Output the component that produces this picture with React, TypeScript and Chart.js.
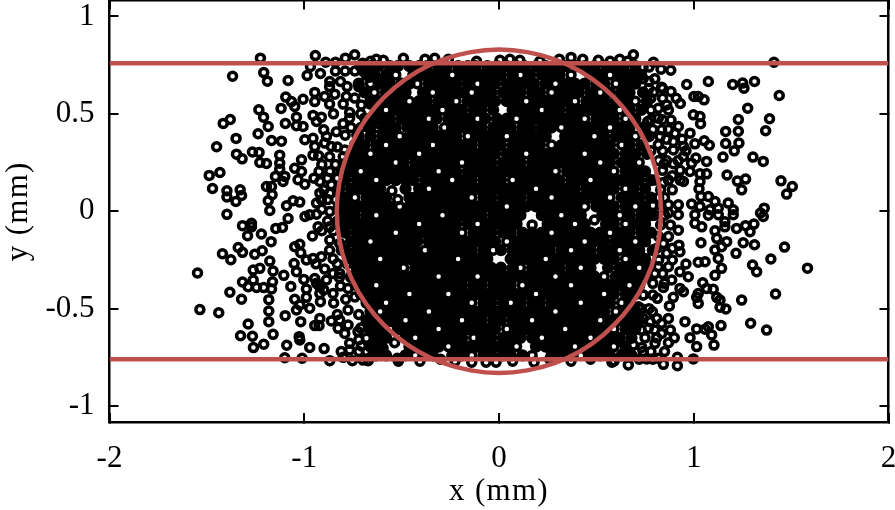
import React, { useEffect, useRef } from "react";
import { Chart, registerables } from "chart.js";

Chart.register(...registerables);

const SERIF = "'Liberation Serif', serif";
const RED = "#c0504d";

const xTicks = ["-2", "-1", "0", "1", "2"];
const yTicks = ["-1", "-0.5", "0", "0.5", "1"];

const beamY = [0.76, -0.76];
const beamX = [-2, 2];

const circleX = [0.833,0.82,0.783,0.721,0.638,0.535,0.417,0.285,0.145,0,-0.145,-0.285,-0.417,-0.535,-0.638,-0.721,-0.783,-0.82,-0.833,-0.82,-0.783,-0.721,-0.638,-0.535,-0.417,-0.285,-0.145,0,0.145,0.285,0.417,0.535,0.638,0.721,0.783,0.82,0.833];
const circleY = [0,0.144,0.284,0.415,0.533,0.635,0.719,0.78,0.817,0.83,0.817,0.78,0.719,0.635,0.533,0.415,0.284,0.144,0,-0.144,-0.284,-0.415,-0.533,-0.635,-0.719,-0.78,-0.817,-0.83,-0.817,-0.78,-0.719,-0.635,-0.533,-0.415,-0.284,-0.144,0];

// Points that can be told apart in the picture, read one by one.
const leftUpper = [[-1.225,.786],[-.943,.799],[-.789,.786],[-.741,.803],[-.968,.743],[-1.208,.712],[-1.189,.668],[-1.368,.693],[-1.083,.671],[-.985,.697],[-.917,.707],[-.869,.666],[-.814,.666],[-.664,.688],[-.621,.678],[-1.095,.586],[-1.066,.563],[-1.049,.538],[-1.006,.575],[-.946,.61],[-.946,.563],[-.895,.589],[-.843,.601],[-.784,.589],[-.741,.581],[-.707,.546],[-.767,.507],[-.767,.478],[-.801,.449],[-.835,.408],[-.69,.478],[-.616,.449],[-1.119,.528],[-1.233,.521],[-1.209,.483],[-1.38,.471],[-1.416,.451],[-1.185,.435],[-1.097,.451],[-1.04,.483],[-1.04,.439],[-1.006,.435],[-.955,.492],[-.912,.483],[-.937,.461],[-.9,.418],[-.886,.384],[-1.237,.398],[-1.35,.374],[-1.45,.331],[-1.168,.363],[-1.117,.36],[-.997,.367],[-.955,.375],[-.946,.333],[-.895,.35],[-.861,.333],[-.792,.315],[-1.348,.293],[-1.319,.269],[-1.266,.304],[-1.232,.302],[-1.126,.288],[-.955,.288],[-.926,.285],[-1.228,.25],[-1.194,.245],[-1.126,.247],[-1.126,.216],[-1.014,.264],[-1.049,.221],[-1.014,.204],[-.924,.204],[-.869,.204],[-1.433,.199],[-1.488,.184],[-1.148,.179],[-1.1,.179],[-1.109,.153],[-1.032,.162],[-.997,.139],[-.92,.153],[-.861,.136],[-1.471,.117],[-1.397,.105],[-1.329,.11],[-1.397,.073],[-1.322,.081],[-1.351,.05],[-1.194,.127],[-1.168,.127],[-1.165,.085],[-1.185,.054],[-1.177,.004],[-1.091,.028],[-1.057,.054],[-1.023,.047],[-.92,.093],[-.912,.059],[-.937,.042],[-.869,.093],[-1.397,-.016],[-.996,-.027],[-.972,-.018],[-.937,-.015],[-.869,-.001]];
const leftLower = [[-1.317,-.074],[-1.271,-.062],[-1.271,-.08],[-1.291,-.126],[-1.22,-.117],[-1.146,-.088],[-1.112,-.083],[-1.083,-.037],[-1.17,-.156],[-.958,-.127],[-.929,-.08],[-.869,-.08],[-.869,-.148],[-.818,-.165],[-1.339,-.186],[-1.317,-.211],[-1.42,-.218],[-1.377,-.249],[-1.254,-.221],[-1.216,-.203],[-1.177,-.256],[-1.049,-.182],[-1.023,-.17],[-1.018,-.213],[-1.052,-.268],[-.989,-.25],[-.955,-.242],[-.912,-.233],[-.852,-.244],[-1.228,-.293],[-1.262,-.302],[-1.16,-.307],[-1.548,-.317],[-1.105,-.329],[-1.04,-.31],[-.895,-.297],[-.852,-.319],[-.818,-.319],[-1.317,-.363],[-1.262,-.353],[-1.288,-.387],[-1.245,-.391],[-1.208,-.392],[-1.163,-.362],[-1.168,-.399],[-1.069,-.386],[-1.002,-.35],[-.946,-.345],[-.937,-.37],[-.886,-.353],[-.989,-.399],[-.92,-.387],[-.9,-.404],[-.814,-.384],[-.775,-.396],[-1.382,-.416],[-1.322,-.452],[-1.182,-.454],[-.92,-.422],[-.852,-.422],[-.989,-.442],[-1.049,-.452],[-.917,-.464],[-.849,-.471],[-.787,-.452],[-1.023,-.481],[-.972,-.498],[-1.04,-.507],[-.775,-.507],[-1.182,-.512],[-1.536,-.505],[-1.439,-.521],[-1.098,-.536],[-1.182,-.567],[-1.288,-.579],[-1.018,-.567],[-.92,-.55],[-.861,-.563],[-.818,-.558],[-.946,-.587],[-.924,-.587],[-.826,-.601],[-.775,-.584],[-.724,-.618],[-.792,-.627],[-1.16,-.632],[-1.327,-.639],[-1.266,-.642],[-1.026,-.644],[-1.023,-.661],[-.681,-.652],[-.595,-.644],[-1.208,-.683],[-1.261,-.7],[-1.09,-.688],[-.972,-.699],[-.898,-.705],[-.767,-.678],[-.707,-.692],[-.767,-.712],[-.638,-.729],[-.595,-.704],[-.536,-.675],[-1.1,-.752],[-1.011,-.755],[-.869,-.767],[-.753,-.767],[-.698,-.764],[-.672,-.767],[-.522,-.755]];
const rightUpper = [[.69,.803],[.793,.765],[.832,.729],[.882,.724],[1.412,.765],[.724,.7],[.69,.695],[.77,.666],[.964,.651],[1.075,.666],[1.2,.651],[1.251,.658],[1.258,.632],[1.312,.666],[.835,.637],[.883,.615],[.793,.611],[1.001,.589],[1.023,.589],[1.053,.572],[.931,.553],[1.439,.594],[.861,.546],[.818,.529],[1.277,.529],[.998,.495],[1.032,.486],[1.035,.449],[.883,.468],[.818,.478],[.764,.461],[1.229,.471],[1.389,.475],[.921,.435],[.835,.418],[1.164,.41],[1.229,.411],[1.369,.413],[.904,.401],[.981,.401],[.827,.384],[.895,.358],[1.054,.362],[1.006,.346],[1.08,.339],[1.164,.348],[1.232,.35],[1.208,.31],[.947,.333],[.818,.341],[.895,.315],[1.15,.278],[1.304,.278],[1.357,.256],[1.011,.273],[1.066,.256],[.947,.281],[.989,.247],[.849,.244],[.895,.244],[1.171,.186],[1.066,.192],[1.032,.192],[.981,.204],[.89,.182],[.947,.153],[.844,.148],[1.266,.165],[1.224,.155],[1.448,.156],[1.506,.127],[1.477,.088],[1.246,.11],[1.032,.153],[1.027,.115],[1.075,.076],[1.109,.05],[1.037,.076],[1.177,.042],[.989,.037],[.87,.033],[.921,.033],[1.126,.016],[1.203,.008],[1.362,.016],[1.343,-.009],[1.032,.025],[1.083,.008],[1.006,-.018],[.921,-.018],[.87,-.009],[1.126,-.018],[1.203,-.018],[1.357,-.027]];
const rightLower = [[1.075,-.02],[1.006,-.062],[1.041,-.08],[1.16,-.054],[1.109,-.1],[1.16,-.08],[1.22,-.088],[1.266,-.074],[1.309,-.066],[1.289,-.105],[.921,-.097],[1.118,-.139],[1.169,-.156],[1.254,-.162],[1.312,-.172],[1.466,-.184],[1.037,-.162],[.924,-.174],[.929,-.208],[1.109,-.199],[1.143,-.182],[1.217,-.216],[1.126,-.242],[.844,-.165],[.861,-.216],[1.396,-.245],[.96,-.271],[1.023,-.262],[1.058,-.259],[1.302,-.276],[1.323,-.31],[1.143,-.293],[1.584,-.292],[.929,-.31],[.87,-.285],[.818,-.285],[.972,-.336],[1.109,-.329],[.887,-.353],[1.046,-.367],[.844,-.391],[.929,-.396],[.947,-.413],[1.066,-.396],[1.1,-.401],[1.023,-.422],[1.42,-.425],[.895,-.442],[.813,-.447],[.741,-.43],[1.118,-.442],[1.015,-.442],[1.023,-.473],[1.246,-.456],[1.135,-.456],[.875,-.486],[1.135,-.493],[1.165,-.502],[.788,-.516],[.716,-.49],[.955,-.567],[1.292,-.575],[1.14,-.587],[1.374,-.61],[1.015,-.604],[1.075,-.593],[.835,-.575],[.776,-.567],[1.058,-.606],[1.092,-.635],[.981,-.649],[.835,-.627],[.767,-.601],[.87,-.675],[.733,-.699],[.69,-.687],[1.015,-.695],[1.104,-.687],[.801,-.678],[.622,-.669],[.916,-.75],[.998,-.758],[.916,-.793],[.844,-.786],[.758,-.758],[.664,-.789],[.591,-.769],[.818,-.755],[.673,-.746],[.553,-.729],[.639,-.729]];
const topEdge = [[-.594,.775],[-.491,.785],[-.38,.78],[-.33,.785],[-.26,.78],[-.115,.77],[.005,.775],[.056,.78],[.107,.775],[.21,.77],[.31,.78],[.37,.79],[.43,.78],[.51,.775],[.57,.77],[-.89,.765],[-.84,.765],[-.66,.77],[-.63,.78],[-.7,.76],[.62,.78],[.66,.77]];
const bottomEdge = [[-.517,-.77],[-.406,-.77],[-.226,-.77],[-.14,-.775],[-.066,-.775],[-.015,-.775],[.07,-.77],[.18,-.775],[.37,-.77],[.58,-.775],[-.3,-.76],[.26,-.76],[.47,-.76]];

// Crowded bands beside the core, estimated, as [y, ...x].
const leftBandRows = [
[.72,-.84,-.79,-.74,-.7],[.64,-.87,-.78,-.72],[.55,-.87,-.8,-.66],[.5,-.85,-.71],[.43,-.76,-.71,-.66],[.39,-.79,-.73],[.33,-.83,-.74],
[.28,-.87,-.8,-.76],[.24,-.91,-.84,-.79],[.17,-.95,-.88,-.83],[.11,-.9,-.83],[.06,-.88,-.84],[.01,-.91,-.83],[-.05,-.88,-.83],[-.1,-.91,-.85],
[-.2,-.87,-.81],[-.27,-.94,-.83,-.78],[-.34,-.82,-.76],[-.44,-.74,-.69],[-.53,-.83,-.72],[-.6,-.71,-.67],[-.66,-.72,-.64],[-.72,-.81,-.72,-.68],[-.75,-.8,-.66],
];
const rightBandRows = [
[.74,.77,.74],[.68,.8,.74],[.63,.77,.84],[.58,.78,.84,.91],[.52,.78,.87],[.47,.84,.78],[.42,.79,.87],[.37,.86,.94],[.31,.78,.84,.96],
[.26,.82,.92,.86],[.21,.84,.93],[.16,.8,.87,.93],[.11,.83,.89],[.07,.85,.82],[.03,.83,.79],[-.02,.8,.85],[-.07,.83,.88],[-.13,.87,.82],
[-.19,.81,.89],[-.25,.82,.89],[-.32,.8,.84],[-.37,.79,.85],[-.43,.74,.79],[-.5,.73,.77],[-.55,.74,.81,.87],[-.61,.73,.8,.88],[-.65,.75,.81,.9],[-.72,.74,.78,.85],[-.76,.72,.79],
];
const coreVisibleRings = [[.17,-.07],[.49,-.045],[-.55,.105],[-.52,.06]];

// The dense core merges into a black mass in which single circles cannot be
// read: these rows are visual estimates of that mass, as [y, ...x].
const coreRows = [
[.745,-.71,-.66,-.62,-.56,-.52,-.46,-.41,-.37,-.31,-.27,-.21,-.16,-.12,-.06,-.01,.04,.09,.13,.19,.24,.29,.34,.4,.44,.49,.55,.6,.64,.7],
[.7,-.68,-.64,-.58,-.53,-.44,-.39,-.34,-.29,-.24,-.19,-.14,-.09,-.04,.01,.07,.11,.16,.22,.26,.31,.37,.47,.52,.57,.62,.67,.73],
[.655,-.72,-.66,-.61,-.56,-.5,-.46,-.42,-.36,-.31,-.27,-.22,-.16,-.11,-.07,-.02,.04,.09,.14,.18,.24,.29,.34,.39,.44,.5,.54,.6,.65,.7],
[.61,-.69,-.64,-.58,-.53,-.48,-.39,-.34,-.29,-.24,-.19,-.14,-.09,-.04,.02,.06,.11,.17,.21,.27,.32,.37,.41,.47,.52,.57,.63,.67,.74],
[.565,-.66,-.61,-.56,-.51,-.46,-.41,-.37,-.31,-.26,-.22,-.16,-.11,-.06,-.02,.04,.09,.14,.19,.24,.29,.34,.39,.45,.49,.54,.6,.65,.7,.76],
[.52,-.63,-.58,-.53,-.48,-.43,-.39,-.34,-.29,-.24,-.19,-.13,-.09,-.03,.07,.12,.17,.22,.26,.31,.37,.42,.47,.52,.57,.62,.67,.73],
[.475,-.65,-.6,-.56,-.5,-.46,-.41,-.36,-.32,-.26,-.21,-.16,-.11,-.07,-.01,.04,.09,.14,.19,.24,.29,.34,.39,.44,.5,.54,.59,.65,.7],
[.43,-.67,-.63,-.58,-.53,-.47,-.43,-.39,-.34,-.28,-.24,-.19,-.14,-.09,-.03,.01,.06,.12,.16,.22,.27,.32,.37,.42,.47,.52,.57,.62,.67,.74],
[.385,-.72,-.66,-.6,-.56,-.51,-.46,-.41,-.36,-.31,-.26,-.22,-.16,-.11,-.06,-.01,.04,.09,.14,.19,.24,.34,.39,.44,.49,.54,.6,.65,.7,.77],
[.34,-.74,-.69,-.63,-.58,-.53,-.48,-.43,-.38,-.34,-.29,-.24,-.19,-.14,-.08,-.03,.01,.07,.12,.17,.21,.27,.32,.37,.42,.47,.52,.57,.63,.67,.73],
[.295,-.76,-.71,-.66,-.61,-.56,-.51,-.46,-.41,-.36,-.31,-.26,-.21,-.16,-.11,-.06,-.02,.04,.09,.14,.19,.24,.29,.34,.39,.44,.49,.54,.59,.65,.7,.76],
[.25,-.78,-.73,-.68,-.63,-.58,-.53,-.49,-.43,-.39,-.34,-.29,-.24,-.19,-.14,-.09,-.04,.02,.06,.11,.17,.22,.27,.32,.37,.42,.47,.52,.57,.63,.67,.72],
[.205,-.81,-.76,-.71,-.66,-.61,-.56,-.51,-.46,-.41,-.36,-.31,-.26,-.22,-.16,-.11,-.06,-.01,.04,.09,.14,.19,.24,.29,.35,.39,.44,.49,.54,.59,.65,.7,.75],
[.16,-.79,-.73,-.68,-.63,-.58,-.53,-.48,-.44,-.38,-.34,-.29,-.24,-.19,-.14,-.08,-.04,.01,.07,.12,.17,.22,.27,.31,.37,.42,.47,.52,.57,.62,.67,.72,.78],
[.115,-.82,-.76,-.71,-.66,-.61,-.48,-.41,-.36,-.31,-.26,-.21,-.16,-.11,-.06,-.01,.04,.09,.14,.19,.24,.29,.34,.39,.45,.49,.54,.59,.65,.69,.75],
[.07,-.79,-.74,-.68,-.63,-.58,-.46,-.43,-.39,-.34,-.29,-.24,-.19,-.14,-.08,-.04,.02,.06,.11,.17,.22,.27,.32,.37,.42,.47,.52,.57,.63,.67,.72,.78],
[.025,-.81,-.76,-.71,-.66,-.61,-.56,-.51,-.46,-.41,-.36,-.31,-.26,-.21,-.16,-.11,-.06,-.01,.04,.09,.14,.19,.24,.29,.34,.39,.44,.5,.54,.59,.65,.7,.75],
[-.02,-.79,-.74,-.68,-.63,-.58,-.53,-.48,-.44,-.39,-.34,-.29,-.24,-.19,-.14,-.09,-.03,.02,.07,.11,.22,.27,.32,.37,.42,.53,.57,.62,.67,.73,.78],
[-.065,-.81,-.76,-.71,-.66,-.61,-.56,-.51,-.46,-.41,-.36,-.31,-.26,-.22,-.16,-.11,-.06,-.01,.04,.09,.25,.29,.34,.39,.44,.55,.59,.65,.7,.75],
[-.11,-.79,-.73,-.68,-.63,-.58,-.53,-.48,-.43,-.39,-.34,-.29,-.24,-.19,-.13,-.09,-.04,.02,.06,.12,.17,.22,.27,.32,.37,.42,.47,.52,.57,.62,.67,.73,.78],
[-.155,-.76,-.71,-.66,-.61,-.56,-.51,-.46,-.42,-.36,-.31,-.26,-.21,-.16,-.11,-.06,-.02,.04,.09,.14,.19,.24,.29,.34,.39,.44,.49,.54,.6,.65,.7,.75],
[-.2,-.79,-.73,-.68,-.63,-.58,-.53,-.48,-.43,-.38,-.34,-.29,-.24,-.19,-.14,-.08,-.03,.01,.07,.12,.17,.22,.26,.32,.37,.42,.47,.53,.57,.62,.67,.72,.79],
[-.245,-.76,-.71,-.66,-.61,-.56,-.51,-.46,-.41,-.36,-.31,-.26,-.21,-.16,-.11,-.06,.06,.09,.14,.19,.24,.29,.34,.39,.44,.49,.54,.59,.65,.7,.75],
[-.29,-.73,-.68,-.63,-.58,-.53,-.49,-.43,-.39,-.34,-.29,-.24,-.19,-.14,-.09,-.04,.01,.07,.11,.17,.22,.27,.31,.37,.42,.47,.56,.62,.67,.72,.77],
[-.335,-.76,-.71,-.66,-.61,-.56,-.51,-.46,-.41,-.36,-.31,-.26,-.21,-.16,-.11,-.06,-.01,.04,.09,.14,.19,.24,.29,.34,.39,.44,.49,.54,.6,.65,.7,.75],
[-.38,-.73,-.68,-.63,-.58,-.53,-.48,-.43,-.38,-.34,-.29,-.24,-.19,-.13,-.09,-.03,.02,.06,.12,.17,.22,.27,.32,.37,.42,.47,.52,.57,.62,.67,.72],
[-.425,-.71,-.66,-.61,-.56,-.51,-.46,-.41,-.36,-.31,-.26,-.21,-.16,-.11,-.06,-.01,.04,.09,.14,.19,.24,.29,.34,.39,.44,.49,.54,.59,.65,.7],
[-.47,-.68,-.63,-.58,-.53,-.48,-.43,-.38,-.34,-.29,-.24,-.19,-.14,-.08,-.04,.02,.06,.11,.17,.21,.27,.32,.37,.42,.47,.52,.57,.63,.67],
[-.515,-.66,-.61,-.56,-.51,-.46,-.41,-.36,-.31,-.26,-.21,-.16,-.11,-.06,-.01,.04,.09,.14,.19,.24,.29,.34,.39,.44,.49,.54,.6,.65,.7],
[-.56,-.68,-.63,-.58,-.53,-.48,-.43,-.39,-.34,-.29,-.24,-.19,-.14,-.09,-.03,.01,.07,.12,.17,.22,.27,.32,.37,.42,.47,.52,.57,.62,.67,.72],
[-.605,-.66,-.61,-.56,-.51,-.46,-.41,-.36,-.31,-.26,-.21,-.16,-.11,-.06,-.02,.04,.09,.14,.19,.24,.29,.34,.39,.44,.49,.54,.59,.65,.7],
[-.65,-.63,-.58,-.48,-.43,-.38,-.34,-.29,-.24,-.19,-.13,-.09,-.04,.02,.07,.11,.17,.22,.27,.32,.37,.42,.47,.52,.57,.62,.68],
[-.695,-.66,-.61,-.46,-.41,-.36,-.31,-.26,-.21,-.16,-.11,-.06,-.01,.04,.09,.19,.24,.29,.34,.39,.44,.49,.54,.59,.65],
[-.74,-.63,-.58,-.48,-.43,-.38,-.34,-.24,-.19,-.14,-.08,-.04,.02,.06,.12,.17,.27,.32,.37,.42,.47,.52,.57,.63,.68],
];

// Core points whose centre still shows as a small white dot, as [y, ...x].
const coreOpenRows = [
[.7,-.53,.11,.37,-.24,.57],[.655,-.42,-.11,.29,.6,-.66],[.61,-.34,-.14,.27,.52,-.64],[.565,-.46,-.22,.14,.39,.7],
[.52,-.58,-.29,.22,.62],[.475,-.36,-.11,.44,.65,.09],[.43,-.63,-.28,.32,.57],[.385,-.51,-.16,.04,.49,.7],
[.34,-.58,.27,.63,-.34],[.295,-.66,-.41,.44,.14],[.25,-.53,-.19,.52,.72],[.205,-.71,-.31,.29,.59],
[.16,-.63,.07,.47,-.24],[.115,-.36,.19,.65],[.07,-.74,.27,.57,-.14],[.025,-.51,.04,.44,.7],
[-.02,-.63,-.29,.32,.62],[-.065,-.41,.39,.65,-.11],[-.11,-.53,-.19,.27,.57],[-.155,-.66,.04,.44,.7],
[-.2,-.38,-.03,.37,.62],[-.245,-.61,-.21,.24,.65],[-.29,-.49,.11,.42,.72],[-.335,-.31,-.11,.54,.29],
[-.38,-.63,.12,.37,.67],[-.425,-.46,-.26,.19,.54],[-.47,-.58,-.14,.06,.42,.63],[-.515,-.36,.29,.6,-.61],
[-.56,-.48,-.19,.17,.52],[-.605,-.31,.04,.34,.59,-.56],[-.65,-.43,-.13,.22,.47],[-.695,-.26,.09,.39,.59],[-.74,-.43,-.14,.17,.42],
];

const toPts = (rows: number[][]) => rows.flatMap(([y, ...xs]) => xs.map((x) => ({ x, y })));
const coreOpen = toPts(coreOpenRows);
const openKeys = new Set(coreOpen.map((p) => `${p.x},${p.y}`));
const coreSolid = toPts(coreRows).filter((p) => !openKeys.has(`${p.x},${p.y}`));
const rings = [...leftUpper, ...leftLower, ...rightUpper, ...rightLower, ...topEdge, ...bottomEdge, ...coreVisibleRings]
  .map(([x, y]) => ({ x, y }))
  .concat(coreOpen, toPts(leftBandRows), toPts(rightBandRows));
const zip = (xs: number[], ys: number[]) => xs.map((x, i) => ({ x, y: ys[i] }));

const flatten = (s: any) => { s.paddingLeft = 0; s.paddingRight = 0; s.paddingTop = 0; s.paddingBottom = 0; };
const spaceTitle = (s: any) => {
  if (s.$spaced) return;
  s.$spaced = true;
  const draw = s.drawTitle;
  s.drawTitle = function () {
    const c = this.ctx;
    c.letterSpacing = "1.3px";
    draw.call(this);
    c.letterSpacing = "0px";
  };
};

export default function App() {
  const ref = useRef<HTMLCanvasElement>(null);
  useEffect(() => {
    document.body.style.margin = "0";
    const font = { family: SERIF, size: 31 };
    const line = (data: { x: number; y: number }[], tension = 0) => ({
      type: "scatter" as const, data, showLine: true, borderColor: RED, backgroundColor: RED,
      borderWidth: 4.5, pointRadius: 0, tension, fill: false,
    });
    const mark = (data: { x: number; y: number }[], filled: boolean) => ({
      type: "scatter" as const, data, showLine: false, pointStyle: "circle",
      pointRadius: filled ? 4.4 : 4, borderColor: "#000", borderWidth: 3.5,
      backgroundColor: filled ? "#000" : "rgba(0,0,0,0)",
    });
    const grid = { drawOnChartArea: false, drawTicks: true, tickLength: -9, color: "#000", lineWidth: 2 };
    const border = { display: true, color: "#000", width: 2.5 };
    const chart = new Chart(ref.current!, {
      type: "scatter",
      data: {
        datasets: [
          line(beamX.map((x) => ({ x, y: beamY[0] }))),
          line(beamX.map((x) => ({ x, y: beamY[1] }))),
          line(zip(circleX, circleY), 0.4),
          mark(rings, false),
          mark(coreSolid, true),
        ],
      },
      options: {
        animation: false, responsive: false,
        layout: { padding: 0, autoPadding: false },
        plugins: { legend: { display: false }, tooltip: { enabled: false }, title: { display: false } },
        scales: {
          x: {
            type: "linear", position: "bottom", min: -2, max: 2, grid, border,
            ticks: { stepSize: 1, includeBounds: false, padding: 27, color: "#000", font, maxRotation: 0, autoSkip: false,
              callback: (v: any) => xTicks[Number(v) + 2] },
            title: { display: true, text: "x (mm)", color: "#000", font, padding: { top: 0, bottom: 0 } },
            afterFit: (s: any) => { s.height = 88; flatten(s); spaceTitle(s); },
          },
          y: {
            type: "linear", position: "left", min: -1.082, max: 1.082, grid, border,
            ticks: { stepSize: 0.5, includeBounds: false, padding: 24, color: "#000", font, autoSkip: false,
              callback: (v: any) => yTicks[Math.round((Number(v) + 1) * 2)] },
            title: { display: true, text: "y (mm)", color: "#000", font, padding: { top: 0, bottom: 0 } },
            afterFit: (s: any) => { s.width = 109.5; flatten(s); spaceTitle(s); },
          },
          x2: {
            type: "linear", position: "top", min: -2, max: 2, grid, border,
            ticks: { stepSize: 1, includeBounds: false, display: false },
            afterFit: (s: any) => { s.height = 0.5; flatten(s); },
          },
          y2: {
            type: "linear", position: "right", min: -1.082, max: 1.082, grid, border,
            ticks: { stepSize: 0.5, includeBounds: false, display: false },
            afterFit: (s: any) => { s.width = 6.5; flatten(s); },
          },
        },
      } as any,
    });
    return () => chart.destroy();
  }, []);
  return (
    <div style={{ position: "absolute", left: 0, top: 0, width: 895, height: 510, background: "#fff" }}>
      <canvas ref={ref} width={895} height={510} style={{ display: "block" }} />
    </div>
  );
}
